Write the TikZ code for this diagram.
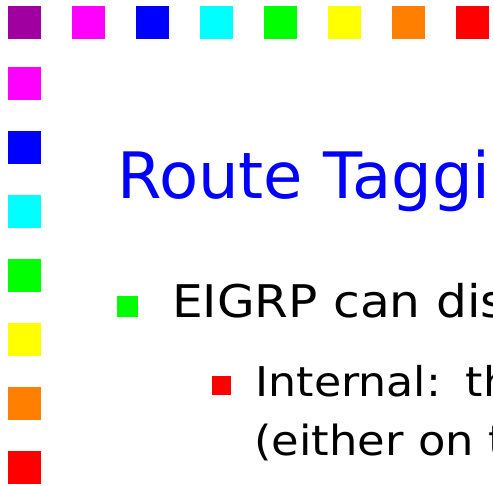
\documentclass[tikz,border=0pt]{standalone}
\usepackage{fontspec}
\setmainfont{DejaVu Sans}
% slightly widened face for the bullet text
\newfontfamily\bodyface[FakeStretch=1.08]{DejaVu Sans}
\definecolor{sqpurple}{HTML}{A000A0}
\definecolor{sqmagenta}{HTML}{FF00FF}
\definecolor{sqblue}{HTML}{0000FF}
\definecolor{sqcyan}{HTML}{00FFFF}
\definecolor{sqgreen}{HTML}{00FF00}
\definecolor{sqyellow}{HTML}{FFFF00}
\definecolor{sqorange}{HTML}{FF8000}
\definecolor{sqred}{HTML}{FF0000}
\begin{document}
\begin{tikzpicture}[x=1pt,y=-1pt,
  deco/.style={fill=#1, draw=none},
  txt/.style={anchor=base west, inner sep=0pt, outer sep=0pt}]
\useasboundingbox (0,0) rectangle (493,486);
\clip (0,0) rectangle (493,486);
% top row of squares
\foreach \c [count=\i from 0] in {sqpurple,sqmagenta,sqblue,sqcyan,sqgreen,sqyellow,sqorange,sqred}
  \fill[deco=\c] (8+64*\i,6) rectangle ++(33,33);
% left column of squares
\foreach \c/\y in {sqmagenta/67,sqblue/131,sqcyan/195,sqgreen/259,sqyellow/323,sqorange/387,sqred/451}
  \fill[deco=\c] (8,\y) rectangle ++(33,33);
% title
\node[txt, text=sqblue, font=\fontsize{64}{72}\selectfont] (title) at (117.5,199) {Route Taggi};
% first-level bullet
\fill[deco=sqgreen] (117,296) rectangle (138,317);
\node[txt, font=\bodyface\fontsize{45}{54}\selectfont] (lvl1) at (172.2,318) {EIGRP can dis};
% second-level bullet
\fill[deco=sqred] (212,376) rectangle (231,395);
\node[txt, font=\bodyface\fontsize{41}{50}\selectfont] (lvl2a) at (255.6,397) {Internal:\hspace{0.3em}\hspace{0.3em}th};
\node[txt, font=\bodyface\fontsize{41.5}{50}\selectfont] (lvl2b) at (254.4,455) {(either on t};
\end{tikzpicture}
\end{document}
